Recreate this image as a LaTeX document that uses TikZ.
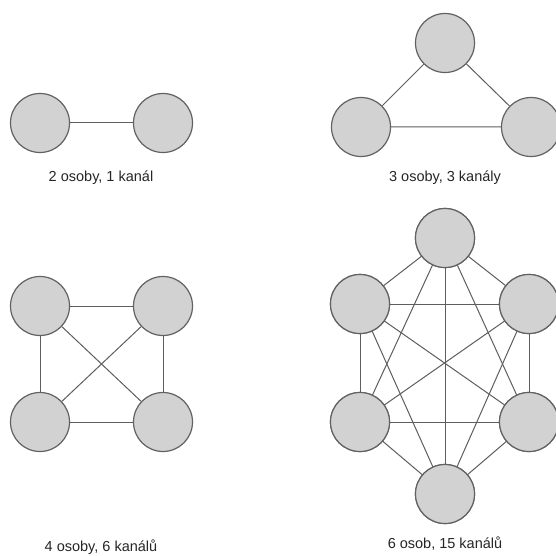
\documentclass[tikz,border=0pt]{standalone}
\usepackage{fontspec}
\setmainfont{Liberation Sans}
\definecolor{personfill}{HTML}{D2D2D2}
\definecolor{personline}{HTML}{626262}
\definecolor{channel}{HTML}{5E5E5E}
\begin{document}
\begin{tikzpicture}[x=1pt,y=-1pt,
  person/.style={circle,draw=personline,fill=personfill,line width=1.2pt,minimum size=59pt,inner sep=0pt},
  link/.style={draw=channel,line width=1pt},
  caption/.style={font=\fontsize{14.5}{17}\selectfont,text=black!85}]
  \useasboundingbox (0,0) rectangle (556,556);
  \fill[white] (0,0) rectangle (556,556);

  % two people, one channel
  \node[person] (a1) at (40,123) {};
  \node[person] (a2) at (163,123) {};
  \draw[link] (a1) -- (a2);
  \node[caption] (ca) at (101,178) {2 osoby, 1 kanál};

  % three people, three channels
  \node[person] (b1) at (445,43) {};
  \node[person] (b2) at (361,127) {};
  \node[person] (b3) at (531,127) {};
  \draw[link] (b1) -- (b2) (b2) -- (b3) (b3) -- (b1);
  \node[caption] (cb) at (445,178) {3 osoby, 3 kanály};

  % four people, six channels
  \node[person] (c1) at (40,306) {};
  \node[person] (c2) at (163,306) {};
  \node[person] (c3) at (40,422) {};
  \node[person] (c4) at (163,422) {};
  \foreach \i/\j in {1/2,1/3,1/4,2/3,2/4,3/4}
    \draw[link] (c\i) -- (c\j);
  \node[caption] (cc) at (101,547) {4 osoby, 6 kanálů};

  % six people, fifteen channels
  \node[person] (d1) at (445,238) {};
  \node[person] (d2) at (360,304) {};
  \node[person] (d3) at (529,304) {};
  \node[person] (d4) at (360,422) {};
  \node[person] (d5) at (529,422) {};
  \node[person] (d6) at (445,494) {};
  \foreach \i/\j in {1/2,1/3,1/4,1/5,1/6,2/3,2/4,2/5,2/6,3/4,3/5,3/6,4/5,4/6,5/6}
    \draw[link] (d\i.center) -- (d\j.center);
  \foreach \k in {1,...,6}
    \node[person] at (d\k) {};
  \node[caption] (cd) at (445,544) {6 osob, 15 kanálů};
\end{tikzpicture}
\end{document}
